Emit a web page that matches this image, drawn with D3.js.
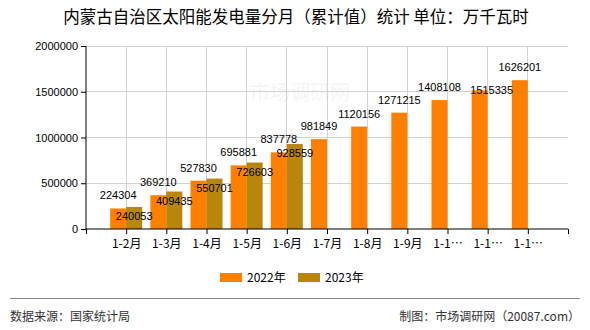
<!DOCTYPE html>
<html><head><meta charset="utf-8">
<script src="https://cdn.jsdelivr.net/npm/d3@7"></script>
<style>body{margin:0;background:#fff}svg{display:block}text{font-family:"Liberation Sans","Noto Sans CJK SC",sans-serif}</style>
</head><body><div id="chart"></div>
<script>
const title = "内蒙古自治区太阳能发电量分月（累计值）统计 单位：万千瓦时";
const categories = ["1-2月","1-3月","1-4月","1-5月","1-6月","1-7月","1-8月","1-9月","1-10月","1-11月","1-12月"];
const series2022 = [224304,369210,527830,695881,837778,981849,1120156,1271215,1408108,1515335,1626201];
const series2023 = [240053,409435,550701,726603,928559];
const yTicks = [0,500000,1000000,1500000,2000000];
const seriesNames = ["2022年","2023年"];
const colors = ["#FF8000","#B8860B"];

(function(){
const W=590,H=330;
const svg=d3.select("#chart").append("svg").attr("width",W).attr("height",H);
const pL=86,pR=568,pT=46,pB=229;
const x=d3.scaleLinear().domain([0,categories.length+1]).range([pL,pR]);
const y=d3.scaleLinear().domain([0,2000000]).range([pB,pT]);
const bw=16;

// watermark
svg.append("text").attr("x",300).attr("y",100).attr("text-anchor","middle")
  .attr("font-size",20).attr("fill","#000").attr("opacity",0.04)
  .style("font-family","Noto Sans CJK SC").text("市场调研网");

// grid
svg.append("g").selectAll("line").data(yTicks.slice(1)).join("line")
  .attr("x1",pL).attr("x2",pR).attr("y1",d=>y(d)).attr("y2",d=>y(d))
  .attr("stroke","#d3d3d3").attr("stroke-width",1).attr("shape-rendering","crispEdges");
svg.append("g").selectAll("line").data(categories).join("line")
  .attr("x1",(d,i)=>x(i+1)).attr("x2",(d,i)=>x(i+1)).attr("y1",pT).attr("y2",pB)
  .attr("stroke","#d3d3d3").attr("stroke-width",1).attr("shape-rendering","crispEdges");

// bars
svg.append("g").selectAll("rect").data(series2022).join("rect")
  .attr("x",(d,i)=>x(i+1)-bw).attr("width",bw).attr("y",d=>y(d)).attr("height",d=>pB-y(d))
  .attr("fill",colors[0]);
svg.append("g").selectAll("rect").data(series2023).join("rect")
  .attr("x",(d,i)=>x(i+1)).attr("width",bw).attr("y",d=>y(d)).attr("height",d=>pB-y(d))
  .attr("fill",colors[1]);

// axes
const yAxis=svg.append("g").attr("transform",`translate(${pL},0)`)
  .call(d3.axisLeft(y).tickValues(yTicks).tickFormat(d3.format("d")).tickSize(5).tickPadding(3));
const xAxis=svg.append("g").attr("transform",`translate(0,${pB})`)
  .call(d3.axisBottom(x).tickValues(d3.range(0,categories.length+2)).tickFormat(d=>{
    const c=categories[d-1]; if(!c) return ""; return c.length>4? c.slice(0,3)+"…":c;}).tickSize(5).tickPadding(3));
[yAxis,xAxis].forEach(a=>{
  a.select(".domain").attr("stroke","#000");
  a.selectAll(".tick line").attr("stroke","#000");
  a.selectAll("text").attr("font-size",11).attr("fill","#000");
});
xAxis.selectAll(".tick text").attr("font-size",12).style("font-family","'Noto Sans CJK SC',sans-serif").attr("dy","0.9em");
xAxis.select(".domain").attr("d",`M${pL},0H${pR}`);
yAxis.select(".domain").attr("d",`M0,${pT}V${pB}`);

// labels
svg.append("g").selectAll("text").data(series2022).join("text")
  .attr("x",(d,i)=>x(i+1)-bw/2 + (i===9?12:0))
  .attr("y",(d,i)=>y(d)-9 + (i===9?13:0))
  .attr("text-anchor","middle").attr("font-size",11).attr("fill","#000").text(d=>d);
svg.append("g").selectAll("text").data(series2023).join("text")
  .attr("x",(d,i)=>x(i+1)+bw/2).attr("y",d=>y(d)+13)
  .attr("text-anchor","middle").attr("font-size",11).attr("fill","#000").text(d=>d);

// title
svg.append("text").attr("x",296).attr("y",23).attr("text-anchor","middle")
  .attr("font-size",16.5).style("font-family","'Noto Sans CJK SC',sans-serif").style("white-space","pre")
  .attr("fill","#000").text(title);

// legend
const lg=svg.append("g");
const lx=[220,298];
seriesNames.forEach((n,i)=>{
  lg.append("rect").attr("x",lx[i]).attr("y",273).attr("width",22).attr("height",9).attr("fill",colors[i]);
  lg.append("text").attr("x",lx[i]+27).attr("y",281.5).attr("font-size",12).attr("fill","#000")
    .style("font-family","'Noto Sans CJK SC',sans-serif").text(n);
});

// footer
svg.append("line").attr("x1",10).attr("x2",580).attr("y1",298.5).attr("y2",298.5).attr("stroke","#888").attr("stroke-width",1);
svg.append("text").attr("x",10).attr("y",321).attr("font-size",12).attr("fill","#333")
  .style("font-family","'Noto Sans CJK SC',sans-serif").text("数据来源：国家统计局");
svg.append("text").attr("x",580).attr("y",321).attr("text-anchor","end").attr("font-size",12).attr("fill","#333")
  .style("font-family","'Noto Sans CJK SC',sans-serif").text("制图：市场调研网（20087.com）");
})();
</script></body></html>
